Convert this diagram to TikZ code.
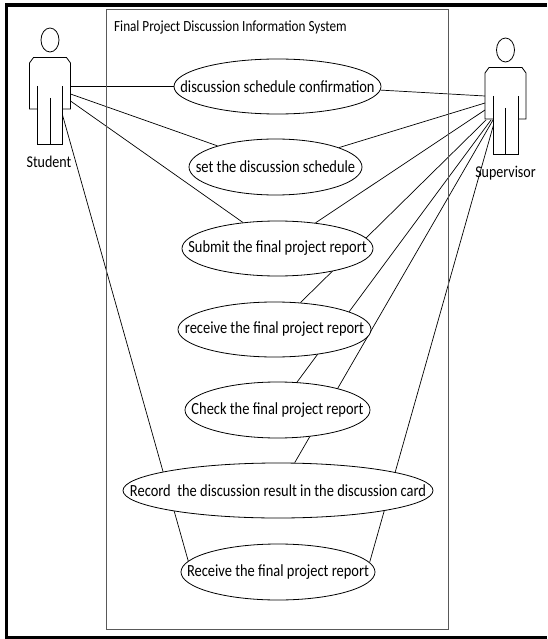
\documentclass[tikz,border=0pt]{standalone}
\usepackage{fontspec}
\setmainfont[FakeStretch=0.85]{Carlito}
\usetikzlibrary{shapes.geometric}
\pgfdeclarelayer{connectors}
\pgfsetlayers{connectors,main}
\newcommand{\uctext}[1]{\makebox[0pt]{#1}}
\tikzset{
  x=1pt,y=-1pt,
  usecase/.style={draw=black,fill=white,ellipse,line width=0.8pt,inner sep=0pt,font=\fontsize{17}{18}\selectfont},
  conn/.style={draw=black,line width=0.7pt},
  limb/.style={draw=black,line width=0.8pt},
  lbl/.style={inner sep=0pt,font=\fontsize{16.5}{18}\selectfont},
  pics/actor/.style={code={
    \draw[limb] (0,0) ellipse (9 and 12);
    \draw[limb] (-12.5,69) -- (-20.5,69) -- (-20.5,23) -- (-16.5,17.5) -- (16.5,17.5) -- (20.5,23) -- (20.5,69) -- (12.5,69);
    \draw[limb] (-12.5,46) -- (-12.5,104) -- (12.5,104) -- (12.5,46);
    \draw[limb] (0,58) -- (0,104);
  }}
}
\begin{document}
\begin{tikzpicture}
\useasboundingbox (0,0) rectangle (547,639);
% page frame
\fill[black] (5,3.3) rectangle (547,6.7);
\fill[black] (5,3.3) rectangle (8.3,639);
\fill[black] (5,636) rectangle (547,639);
% system boundary
\draw[draw=black!65,line width=0.9pt] (106,9.5) rectangle (448,629);
\node[lbl,anchor=west,font=\fontsize{15.5}{17}\selectfont] (title) at (114,27.5) {Final Project Discussion Information System};
% actors
\pic at (50,40) {actor};
\pic at (505.5,50) {actor};
\node[lbl] (student) at (49,162) {Student};
\node[lbl] (supervisor) at (505.5,173.5) {Supervisor};
% attachment points
\coordinate (st1) at (70.5,86.5);
\coordinate (st2) at (70.5,94);
\coordinate (st3) at (70.5,101);
\coordinate (st4) at (62.5,115);
\coordinate (su1) at (485,96);
\coordinate (su2) at (485,103);
\coordinate (su3) at (485,110);
\coordinate (su4) at (486,120);
\coordinate (su5) at (491,120);
\coordinate (su6) at (493,120);
\coordinate (su7) at (493.5,125);
% use cases
\node[usecase,minimum width=207pt,minimum height=55pt] (u1) at (277.5,86.5) {\uctext{discussion schedule confirmation}};
\node[usecase,minimum width=173pt,minimum height=56pt] (u2) at (275.5,167) {\uctext{set the discussion schedule}};
\node[usecase,minimum width=191pt,minimum height=55pt] (u3) at (277.5,248.5) {\uctext{Submit the final project report}};
\node[usecase,minimum width=193pt,minimum height=55pt] (u4) at (274.5,329.5) {\uctext{receive the final project report}};
\node[usecase,minimum width=185pt,minimum height=56pt] (u5) at (277.5,410) {\uctext{Check the final project report}};
\node[usecase,minimum width=310pt,minimum height=55pt] (u6) at (278,490.5) {\uctext{Record\ \ the discussion result in the discussion card}};
\node[usecase,minimum width=194pt,minimum height=56pt] (u7) at (278,572) {\uctext{Receive the final project report}};
% connectors run behind the use cases
\begin{pgfonlayer}{connectors}
\draw[conn] (st1) -- (u1.180);
\draw[conn] (st2) -- (u2.160.3);
\draw[conn] (st3) -- (u3.143.2);
\draw[conn] (st4) -- (u7.173.7);
\draw[conn] (su1) -- (u1.-2.5);
\draw[conn] (su2) -- (u2.17.7);
\draw[conn] (su3) -- (u3.34.4);
\draw[conn] (su4) -- (u4.46.4);
\draw[conn] (su5) -- (u5.55.1);
\draw[conn] (su6) -- (u6.59.5);
\draw[conn] (su7) -- (u7.6.5);
\end{pgfonlayer}
\end{tikzpicture}
\end{document}
